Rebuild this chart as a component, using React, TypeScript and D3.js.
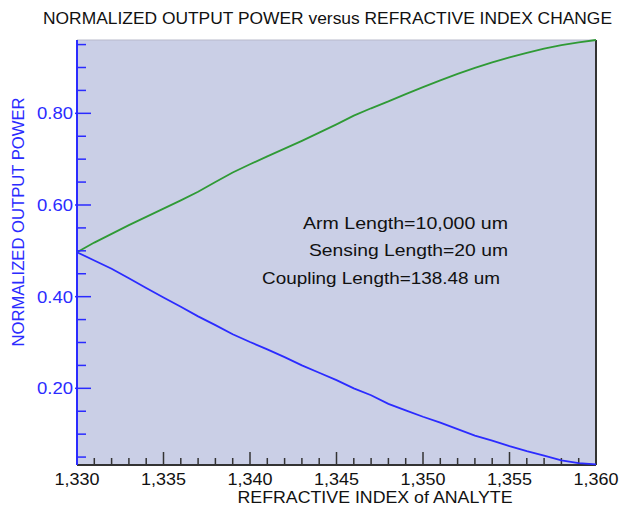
import React from "react";
import * as d3 from "d3";

const refIndex = [1.330,1.331,1.332,1.333,1.334,1.335,1.336,1.337,1.338,1.339,1.340,1.341,1.342,1.343,1.344,1.345,1.346,1.347,1.348,1.349,1.350,1.351,1.352,1.353,1.354,1.355,1.356,1.357,1.358,1.359,1.360];
const greenPower = [0.497,0.518,0.537,0.556,0.574,0.592,0.610,0.629,0.650,0.671,0.689,0.706,0.723,0.740,0.758,0.776,0.795,0.811,0.826,0.842,0.857,0.872,0.886,0.899,0.911,0.922,0.932,0.941,0.949,0.955,0.960];
const bluePower = [0.497,0.479,0.461,0.440,0.419,0.398,0.378,0.357,0.338,0.318,0.301,0.285,0.268,0.250,0.234,0.218,0.200,0.185,0.166,0.152,0.138,0.125,0.111,0.097,0.086,0.074,0.063,0.053,0.043,0.037,0.034];
const xMajorTicks = [1.330,1.335,1.340,1.345,1.350,1.355,1.360];
const yMajorTicks = [0.20,0.40,0.60,0.80];
const yMinorTicks = [0.05,0.10,0.15,0.25,0.30,0.35,0.45,0.50,0.55,0.65,0.70,0.75,0.85,0.90,0.95];
const annotations = ["Arm Length=10,000 um", "Sensing Length=20 um", "Coupling Length=138.48 um"];
const titleText = "NORMALIZED OUTPUT POWER versus REFRACTIVE INDEX CHANGE";
const xLabel = "REFRACTIVE INDEX of ANALYTE";
const yLabel = "NORMALIZED OUTPUT POWER";

export default function App() {
  const W = 624, H = 510;
  const L = 77, R = 596, T = 40, B = 465;
  const x = d3.scaleLinear().domain([1.330, 1.360]).range([L, R]);
  const y = d3.scaleLinear().domain([0.0327, 0.960]).range([B, T]);
  const xMinor = d3.range(0, 31).map((i) => 1.330 + i * 0.001).filter((_, i) => i % 5 !== 0);
  const line = d3.line<number>().x((_, i) => x(refIndex[i])).y((d) => y(d));
  const blue = "#2b2bff";
  const green = "#2f9a35";
  const font = "'Liberation Sans', Arial, sans-serif";
  const annPos = [
    { x0: 303, x1: 508, yb: 229 },
    { x0: 309, x1: 508, yb: 256 },
    { x0: 262, x1: 500, yb: 284 },
  ];
  return (
    <svg width={W} height={H} style={{ position: "absolute", left: 0, top: 0, background: "#fff" }} fontFamily={font}>
      <text x={43} y={24} fontSize={16} fill="#111" textLength={569} lengthAdjust="spacingAndGlyphs">{titleText}</text>
      <rect x={L} y={T} width={R - L} height={B - T} fill="#cacfe6" stroke="none" />
      <line x1={L} x2={R} y1={T} y2={T} stroke="#b8bacb" strokeWidth={1} />
      <line x1={R} x2={R} y1={T} y2={B} stroke="#333" strokeWidth={2} />
      <line x1={L} x2={R} y1={B} y2={B} stroke="#333" strokeWidth={2} />
      {xMinor.map((t) => (
        <line key={"xm" + t} x1={x(t)} x2={x(t)} y1={B} y2={B - 7} stroke="#333" strokeWidth={1.5} />
      ))}
      {xMajorTicks.map((t) => (
        <g key={"xM" + t}>
          <line x1={x(t)} x2={x(t)} y1={B} y2={B - 13} stroke="#333" strokeWidth={1.5} />
          <text x={x(t)} y={485} fontSize={17} textAnchor="middle" fill="#111" textLength={45} lengthAdjust="spacingAndGlyphs">{d3.format(".3f")(t).replace(".", ",")}</text>
        </g>
      ))}
      <text x={375} y={503} fontSize={17} textAnchor="middle" fill="#111" textLength={275} lengthAdjust="spacingAndGlyphs">{xLabel}</text>
      <path d={line(greenPower) || ""} fill="none" stroke={green} strokeWidth={1.8} />
      <path d={line(bluePower) || ""} fill="none" stroke={blue} strokeWidth={1.8} />
      <line x1={L} x2={L} y1={T} y2={B} stroke={blue} strokeWidth={2} />
      {yMinorTicks.map((t) => (
        <line key={"ym" + t} x1={L} x2={L + 9} y1={y(t)} y2={y(t)} stroke={blue} strokeWidth={1.5} />
      ))}
      {yMajorTicks.map((t) => (
        <g key={"yM" + t}>
          <line x1={L - 2} x2={L + 14} y1={y(t)} y2={y(t)} stroke={blue} strokeWidth={1.5} />
          <text x={73} y={y(t) + 6} fontSize={17} textAnchor="end" fill={blue} textLength={36} lengthAdjust="spacingAndGlyphs">{d3.format(".2f")(t)}</text>
        </g>
      ))}
      <text transform={`translate(24,222) rotate(-90)`} fontSize={17} textAnchor="middle" fill={blue} textLength={249} lengthAdjust="spacingAndGlyphs">{yLabel}</text>
      {annotations.map((a, i) => (
        <text key={a} x={annPos[i].x0} y={annPos[i].yb} fontSize={17} fill="#111" textLength={annPos[i].x1 - annPos[i].x0} lengthAdjust="spacingAndGlyphs">{a}</text>
      ))}
    </svg>
  );
}
